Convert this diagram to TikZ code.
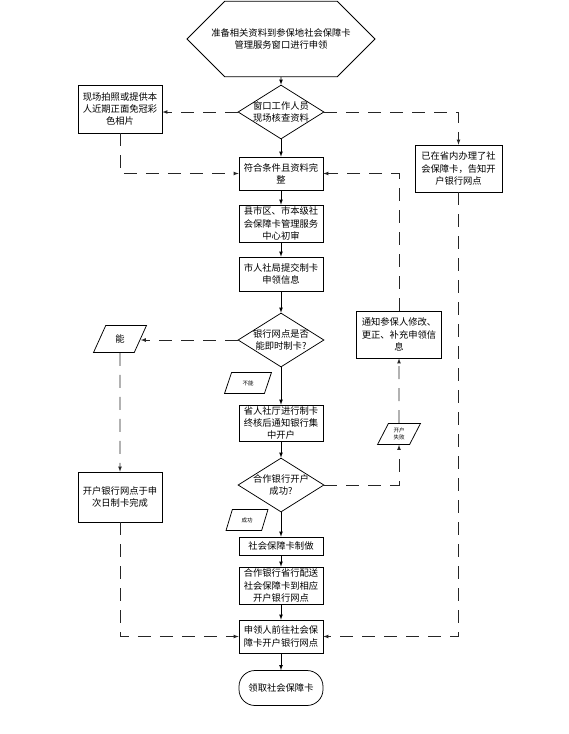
\documentclass[tikz,border=0pt]{standalone}
\usepackage{fontspec}
\newfontfamily\cjk{Noto Sans CJK SC}
\usetikzlibrary{shapes.geometric, shapes.misc, arrows}

\begin{document}
\begin{tikzpicture}[x=1pt, y=-1pt, >=latex, line width=0.75pt,
    box/.style={rectangle, draw=black, fill=white, align=center, inner sep=1pt, minimum width=84pt, font=\cjk\fontsize{9.3}{12.3}\selectfont},
    choice/.style={diamond, draw=black, fill=white, align=center, inner sep=-6pt, minimum width=86pt, minimum height=54pt, font=\cjk\fontsize{9.3}{12.3}\selectfont},
    tag/.style={trapezium, trapezium stretches=true, trapezium left angle=65, trapezium right angle=115, draw=black, fill=white, align=center, inner sep=0pt, font=\cjk\fontsize{5.5}{7}\selectfont},
    flow/.style={->},
    alt/.style={->, draw=black!85, dash pattern=on 13pt off 9pt}]
    \useasboundingbox (0,0) rectangle (568,734);

    % Define nodes
    \node (prep) at (281,39) [chamfered rectangle, chamfered rectangle xsep=16pt, chamfered rectangle ysep=24pt, draw=black, align=center, minimum width=188pt, minimum height=48pt, font=\cjk\fontsize{9.3}{12.3}\selectfont] {准备相关资料到参保地社会保障卡\\管理服务窗口进行申领};
    \node (check) at (281,112) [choice] {窗口工作人员\\现场核查资料};
    \node (photo) at (120,109) [box, minimum height=48pt] {现场拍照或提供本\\人近期正面免冠彩\\色相片};
    \node (ok) at (281,173.5) [box, minimum height=33pt] {符合条件且资料完\\整};
    \node (already) at (458.5,168.5) [box, minimum width=87pt, minimum height=47pt] {已在省内办理了社\\会保障卡，告知开\\户银行网点};
    \node (county) at (281,223.5) [box, minimum height=37pt] {县市区、市本级社\\会保障卡管理服务\\中心初审};
    \node (city) at (281,274) [box, minimum height=34pt] {市人社局提交制卡\\申领信息};
    \node (canmake) at (281,340) [choice] {银行网点是否\\能即时制卡?};
    \node (yes) at (120,339) [tag, minimum width=53pt, minimum height=27pt, font=\cjk\fontsize{9.3}{12}\selectfont] {能};
    \node (no) at (248,383) [tag, minimum width=47pt, minimum height=21pt] {不能};
    \node (notify) at (399,334.5) [box, minimum width=85pt, minimum height=47pt] {通知参保人修改、\\更正、补充申领信\\息};
    \node (prov) at (281,423) [box, minimum height=36pt] {省人社厅进行制卡\\终核后通知银行集\\中开户};
    \node (fail) at (399,434) [tag, minimum width=43pt, minimum height=21pt] {开户\\失败};
    \node (succ) at (281,485) [choice] {合作银行开户\\成功?};
    \node (branch) at (120,497) [box, minimum height=50pt] {开户银行网点于申\\次日制卡完成};
    \node (done) at (247,520) [tag, minimum width=42pt, minimum height=21pt] {成功};
    \node (make) at (281,546) [box, minimum height=18pt] {社会保障卡制做};
    \node (deliver) at (281,585.5) [box, minimum height=37pt] {合作银行省行配送\\社会保障卡到相应\\开户银行网点};
    \node (go) at (281,636.5) [box, minimum height=33pt] {申领人前往社会保\\障卡开户银行网点};
    \node (get) at (281,688) [rectangle, rounded corners=16pt, draw=black, minimum width=84pt, minimum height=35pt, font=\cjk\fontsize{9.3}{12.3}\selectfont] {领取社会保障卡};

    % Connect nodes
    \draw[flow] (prep) -- (check);
    \draw[flow] (check) -- (ok);
    \draw[flow] (ok) -- (county);
    \draw[flow] (county) -- (city);
    \draw[flow] (city) -- (canmake);
    \draw[flow] (canmake) -- (prov);
    \draw[flow] (prov) -- (succ);
    \draw[flow] (succ) -- (make);
    \draw[flow] (make) -- (deliver);
    \draw[flow] (deliver) -- (go);
    \draw[flow] (go) -- (get);

    \draw[alt] (check.west) -- (check.west -| photo.east);
    \draw[alt] (photo.south) |- (ok.west);
    \draw[alt] (check.east) -| (already.north);
    \draw[alt] (already.south) |- (go.east);
    \draw[alt] (notify.north) |- (ok.east);
    \draw[alt] (canmake.west) -- (canmake.west -| yes.east);
    \draw[alt] (yes.south) -- (branch.north);
    \draw[alt] (branch.south) |- (go.west);
    \draw[alt] (succ.east) -| (fail.south);
    \draw[alt] (fail.north) -- (notify.south);
\end{tikzpicture}
\end{document}
